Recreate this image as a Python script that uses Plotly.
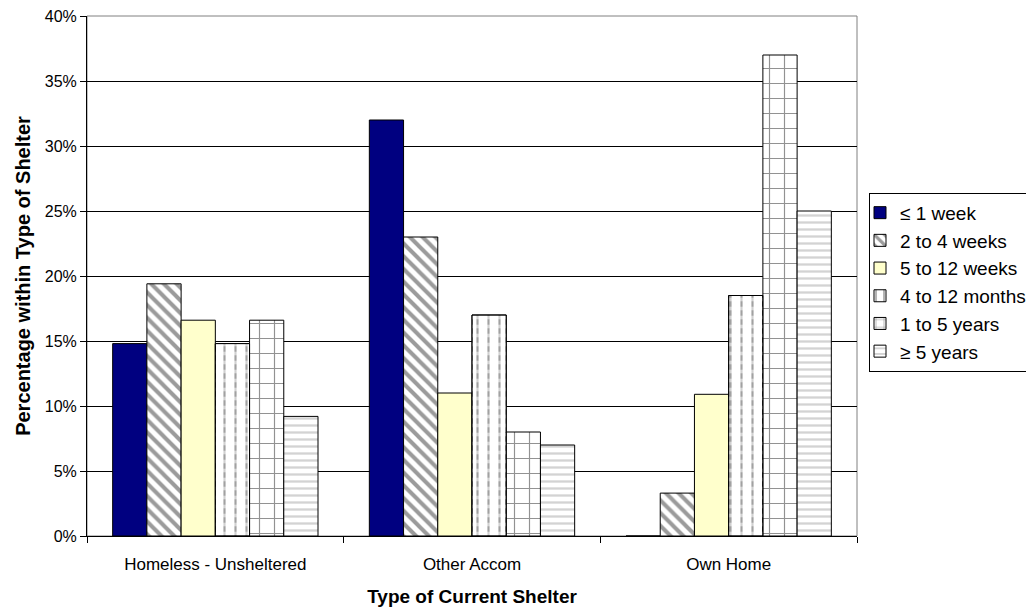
import plotly.graph_objects as go

# Shelter categories and duration groups
shelters = ["Homeless - Unsheltered", "Other Accom", "Own Home"]
durations = ["≤ 1 week", "2 to 4 weeks", "5 to 12 weeks", "4 to 12 months", "1 to 5 years", "≥ 5 years"]

# Percentage within each shelter type, per duration group
week_1 = [14.8, 32.0, 0.0]
weeks_2_4 = [19.4, 23.0, 3.3]
weeks_5_12 = [16.6, 11.0, 10.9]
months_4_12 = [14.8, 17.0, 18.5]
years_1_5 = [16.6, 8.0, 37.0]
years_5_plus = [9.2, 7.0, 25.0]

series = [week_1, weeks_2_4, weeks_5_12, months_4_12, years_1_5, years_5_plus]

styles = [
    dict(color="#000080", pattern=None),
    dict(color="white", pattern=dict(shape="\\", fgcolor="#383838", size=9, solidity=0.45)),
    dict(color="#FFFFCC", pattern=None),
    dict(color="white", pattern=dict(shape="|", fgcolor="#444444", size=11, solidity=0.2)),
    dict(color="white", pattern=dict(shape="+", fgcolor="#262626", size=15, solidity=0.15)),
    dict(color="white", pattern=dict(shape="-", fgcolor="#a8a8a8", size=7, solidity=0.33)),
]

fig = go.Figure()
for i, (name, vals, st) in enumerate(zip(durations, series, styles)):
    marker = dict(color=st["color"], line=dict(color="black", width=1))
    if st["pattern"] is not None:
        marker["pattern"] = st["pattern"]
    fig.add_trace(go.Bar(
        x=shelters,
        y=[v / 100 for v in vals],
        name=name,
        marker=marker,
        offsetgroup=str(i),
    ))

# White horizontal breaks laid over the vertical lines turn them into dashes
fig.add_trace(go.Bar(
    x=shelters,
    y=[v / 100 for v in months_4_12],
    offsetgroup="3",
    showlegend=False,
    hoverinfo="skip",
    marker=dict(
        color="rgba(0,0,0,0)",
        line=dict(color="black", width=1),
        pattern=dict(shape="-", fgcolor="white", bgcolor="rgba(0,0,0,0)",
                     fillmode="overlay", size=9, solidity=0.4),
    ),
))

fig.update_layout(
    width=1026,
    height=609,
    barmode="group",
    bargap=0.2,
    bargroupgap=0,
    plot_bgcolor="white",
    paper_bgcolor="white",
    margin=dict(l=87, r=169, t=16, b=73, autoexpand=False),
    font=dict(family="Liberation Sans, Arial, sans-serif", size=16, color="black"),
    legend=dict(
        x=1.0156, xanchor="left", xref="paper",
        y=0.66, yanchor="top", yref="paper",
        bordercolor="black", borderwidth=1,
        bgcolor="white",
        font=dict(size=19),
        tracegroupgap=0,
        itemwidth=30,
        indentation=-10,
        traceorder="normal",
    ),
    xaxis=dict(
        title=dict(text="<b>Type of Current Shelter</b>", font=dict(size=19), standoff=16),
        showline=True, linecolor="black", linewidth=1,
        ticks="outside", tickson="boundaries", ticklen=6, tickcolor="black",
        tickfont=dict(size=17),
        ticklabelstandoff=13,
    ),
    yaxis=dict(
        title=dict(text="<b>Percentage within Type of Shelter</b>", font=dict(size=20), standoff=8),
        range=[0, 0.40],
        dtick=0.05,
        tickformat=".0%",
        showgrid=True, gridcolor="black", gridwidth=1,
        showline=True, linecolor="black", linewidth=1,
        ticks="outside", ticklen=6, tickcolor="black",
        tickfont=dict(size=16),
        zeroline=False,
    ),
)

# Plot-area frame on top and right
fig.add_shape(type="rect", xref="paper", yref="paper", x0=0, y0=0, x1=1, y1=1,
              line=dict(color="#808080", width=1), layer="below")

fig.write_html("out.html")
